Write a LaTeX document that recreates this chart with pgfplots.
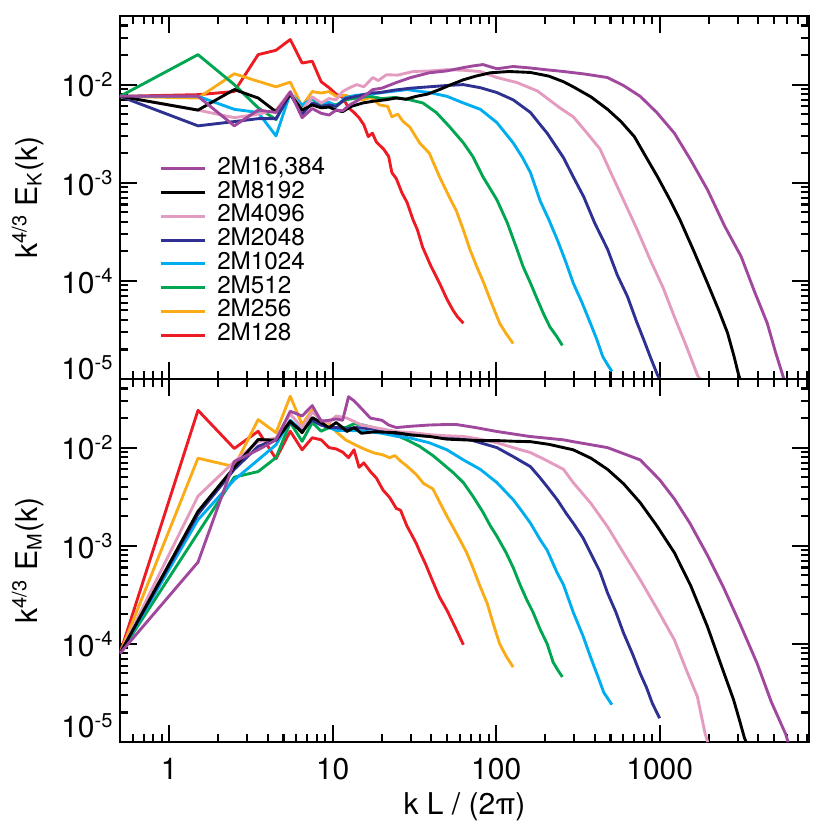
\documentclass[border=0pt]{standalone}
\usepackage{fontspec}
\setmainfont{TeX Gyre Heros}
\usepackage{pgfplots}
\pgfplotsset{compat=1.18}

\definecolor{cPur}{RGB}{160,72,158}
\definecolor{cPnk}{RGB}{228,155,192}
\definecolor{cNav}{RGB}{46,49,146}
\definecolor{cCyn}{RGB}{0,174,239}
\definecolor{cGrn}{RGB}{0,166,81}
\definecolor{cOrg}{RGB}{250,172,24}
\definecolor{cRed}{RGB}{237,28,36}

\pgfplotsset{
  every axis/.append style={
    scale only axis,
    width=275.6pt, height=145.2pt,
    xmin=0.5, xmax=8192, ymin=1e-5, ymax=0.05,
    axis line style={line width=0.95pt},
    tick align=inside, xtick pos=both, ytick pos=both,
    xticklabel pos=lower, yticklabel pos=left,
    major tick length=6.8pt, minor tick length=3.2pt,
    every tick/.style={black, line width=0.85pt},
    xtick={1,10,100,1000},
    minor xtick={0.6,0.7,0.8,0.9,2,3,4,5,6,7,8,9,20,30,40,50,60,70,80,90,
      200,300,400,500,600,700,800,900,2000,3000,4000,5000,6000,7000,8000},
    ytick={1e-4,1e-3,1e-2},
    yticklabels={10\textsuperscript{-4},10\textsuperscript{-3},10\textsuperscript{-2}},
    minor ytick={2e-5,3e-5,4e-5,5e-5,6e-5,7e-5,8e-5,9e-5,2e-4,3e-4,4e-4,5e-4,6e-4,7e-4,8e-4,9e-4,
      2e-3,3e-3,4e-3,5e-3,6e-3,7e-3,8e-3,9e-3,2e-2,3e-2,4e-2},
    extra y ticks={1e-5},
    extra y tick labels={10\textsuperscript{-5}},
    tick label style={font=\fontsize{12}{14}\selectfont},
    yticklabel style={xshift=1pt},
    label style={font=\fontsize{12}{14}\selectfont},
    ylabel style={at={(axis description cs:-0.134,0.5)}, anchor=center},
  },
  every axis plot/.append style={line width=1.15pt, line join=round},
}

\begin{document}
\begin{tikzpicture}
\useasboundingbox (-48pt,-180.4pt) rectangle (284pt,151.6pt);

% kinetic energy spectra
\begin{loglogaxis}[at={(0pt,0pt)},
    xticklabels={},
    extra y tick style={yticklabel style={yshift=4.5pt}},
    ylabel={k\textsuperscript{4/3} E\textsubscript{K}(k)},
    legend style={draw=none, fill=none, at={(0.045,0.627)}, anchor=north west,
      font=\fontsize{9.7}{10}\selectfont, row sep=0pt,
      nodes={inner sep=0pt, text height=7pt, text depth=2.5pt},
      /tikz/every odd column/.append style={column sep=4.5pt}},
    legend cell align=left, legend reversed,
    legend image code/.code={\draw[line width=1.2pt] (0pt,0pt) -- (17.6pt,0pt);},
]
\addplot[cRed] coordinates {(0.5,7.6e-3) (1.5,7.9e-3) (2.5,8.5e-3) (3.5,2.02e-2) (4.5,2.24e-2) (5.5,2.88e-2) (6.5,1.66e-2) (7.5,1.73e-2) (8.5,1.07e-2) (9.5,9.3e-3) (10.5,8.0e-3) (11.5,7.4e-3) (12.5,5.8e-3) (13.5,5.2e-3) (14.5,4.6e-3) (15.5,3.9e-3) (16.5,2.95e-3) (17.5,3.2e-3) (18.5,2.6e-3) (20.5,2.2e-3) (22,1.85e-3) (23,1.27e-3) (24.5,1.1e-3) (26.5,7.9e-4) (28.5,6.3e-4) (31,4.2e-4) (33,3.3e-4) (35.5,2.2e-4) (40,1.4e-4) (45,9.5e-5) (50,6.5e-5) (54.5,5.0e-5) (58,4.3e-5) (63,3.7e-5)};
\addlegendentry{2M128}
\addplot[cOrg] coordinates {(0.5,7.6e-3) (1.5,7.3e-3) (2.5,1.29e-2) (3.5,1.08e-2) (4.5,9.5e-3) (5.5,1.06e-2) (6.5,6.0e-3) (7.5,8.5e-3) (8.5,8.2e-3) (9.5,8.5e-3) (10.5,7.6e-3) (12,7.8e-3) (13.5,7.2e-3) (15.3,7.0e-3) (17,7.4e-3) (19.4,6.2e-3) (21.7,6.0e-3) (23,4.7e-3) (25,5.0e-3) (27,4.2e-3) (29.6,3.7e-3) (34,2.55e-3) (39,2.0e-3) (45,1.15e-3) (52,7.0e-4) (57,5.2e-4) (63,3.3e-4) (69,2.1e-4) (76,1.4e-4) (84,9.5e-5) (92,6.4e-5) (105,3.7e-5) (115,2.9e-5) (127,2.3e-5)};
\addlegendentry{2M256}
\addplot[cGrn] coordinates {(0.5,7.6e-3) (1.5,2.02e-2) (2.5,1.0e-2) (3.5,5.8e-3) (4.5,4.4e-3) (5.5,8.2e-3) (6.5,6.0e-3) (7.5,7.2e-3) (8.5,6.0e-3) (9.5,6.5e-3) (10.5,6.2e-3) (12,7.0e-3) (14,7.3e-3) (17,7.6e-3) (20,7.2e-3) (24,7.4e-3) (29.6,7.0e-3) (35.6,6.5e-3) (43,5.2e-3) (52,3.7e-3) (63,2.55e-3) (72,1.85e-3) (83,1.15e-3) (101,6.7e-4) (117,3.9e-4) (134,2.1e-4) (146,1.4e-4) (162,9.5e-5) (179,6.4e-5) (195,4.6e-5) (213,3.4e-5) (235,2.7e-5) (254,2.2e-5)};
\addlegendentry{2M512}
\addplot[cCyn] coordinates {(0.5,7.6e-3) (1.5,7.6e-3) (2.5,5.6e-3) (3.5,5.2e-3) (4.5,3.0e-3) (5.5,8.2e-3) (6.5,6.2e-3) (7.5,7.2e-3) (8.5,6.5e-3) (9.5,6.6e-3) (10.5,6.0e-3) (12,7.4e-3) (14,7.8e-3) (17,8.0e-3) (20,8.3e-3) (24,8.6e-3) (28.5,8.9e-3) (33,8.6e-3) (39,8.3e-3) (50,7.6e-3) (63,6.5e-3) (80,5.6e-3) (101,4.1e-3) (127,2.55e-3) (145,1.8e-3) (162,1.27e-3) (186,6.5e-4) (210,4.2e-4) (237,2.6e-4) (265,1.6e-4) (296,9.5e-5) (335,6.0e-5) (377,3.7e-5) (410,2.6e-5) (448,1.7e-5) (480,1.4e-5) (510,1.2e-5)};
\addlegendentry{2M1024}
\addplot[cNav] coordinates {(0.5,7.6e-3) (1.5,3.8e-3) (2.5,4.2e-3) (3.5,4.5e-3) (4.5,4.5e-3) (5.5,8.0e-3) (6.5,5.0e-3) (7.5,6.5e-3) (8.5,6.0e-3) (9.5,6.2e-3) (10.5,6.0e-3) (12,7.2e-3) (14,7.6e-3) (17,8.2e-3) (19.4,8.3e-3) (24,8.8e-3) (30,9.2e-3) (39,9.5e-3) (50,9.8e-3) (63,1.0e-2) (80,9.3e-3) (101,8.3e-3) (127,7.0e-3) (162,5.2e-3) (186,3.9e-3) (205,3.2e-3) (258,1.8e-3) (300,1.1e-3) (343,7.2e-4) (400,3.9e-4) (480,2.1e-4) (550,1.15e-4) (636,6.9e-5) (720,3.9e-5) (800,2.5e-5) (880,1.65e-5) (970,1.1e-5) (1000,1.0e-5)};
\addlegendentry{2M2048}
\addplot[cPnk] coordinates {(0.5,7.6e-3) (1.5,5.5e-3) (2.5,4.6e-3) (3.5,5.0e-3) (4.5,5.5e-3) (5.5,8.5e-3) (6.5,5.5e-3) (7.5,7.5e-3) (8.5,6.5e-3) (9.5,7.2e-3) (10.5,7.0e-3) (11.5,8.5e-3) (12.7,9.3e-3) (14,1.0e-2) (15.5,9.5e-3) (17.6,1.18e-2) (19,1.1e-2) (21.3,1.26e-2) (25,1.25e-2) (31,1.36e-2) (40,1.38e-2) (50,1.42e-2) (63,1.4e-2) (80,1.36e-2) (101,1.18e-2) (134,1.05e-2) (179,8.6e-3) (245,5.8e-3) (296,4.7e-3) (360,3.2e-3) (432,2.2e-3) (510,1.2e-3) (600,6.7e-4) (730,3.3e-4) (875,1.64e-4) (1050,8.5e-5) (1230,4.3e-5) (1450,2.2e-5) (1700,1.1e-5) (1760,1.0e-5)};
\addlegendentry{2M4096}
\addplot[black] coordinates {(0.5,7.6e-3) (1.5,5.5e-3) (2.5,8.9e-3) (3.5,7.3e-3) (4.5,5.3e-3) (5.5,8.0e-3) (6.5,5.5e-3) (7.5,6.2e-3) (8.5,5.8e-3) (9.5,5.9e-3) (10.5,5.5e-3) (11.5,5.3e-3) (13,6.0e-3) (15.3,6.5e-3) (18,6.8e-3) (21,7.0e-3) (24.5,7.3e-3) (28,7.1e-3) (32.5,7.6e-3) (38,8.0e-3) (45,8.9e-3) (53,1.0e-2) (63,1.12e-2) (75,1.22e-2) (92,1.32e-2) (120,1.36e-2) (162,1.33e-2) (210,1.22e-2) (258,1.07e-2) (296,9.5e-3) (380,7.5e-3) (480,5.6e-3) (580,4.2e-3) (700,2.95e-3) (830,1.8e-3) (970,1.15e-3) (1150,6.8e-4) (1330,4.2e-4) (1620,2.0e-4) (1960,9.5e-5) (2300,5.0e-5) (2600,2.95e-5) (2850,1.7e-5) (3040,1.1e-5) (3100,1.0e-5)};
\addlegendentry{2M8192}
\addplot[cPur] coordinates {(0.5,7.6e-3) (1.5,7.6e-3) (2.5,3.8e-3) (3.5,5.5e-3) (4.5,5.2e-3) (5.5,8.4e-3) (6.5,4.6e-3) (7.5,5.7e-3) (8.5,5.1e-3) (9.5,4.9e-3) (10.5,5.5e-3) (11.5,5.4e-3) (12.7,6.2e-3) (14,6.8e-3) (15.5,7.6e-3) (17.6,8.9e-3) (20,9.2e-3) (24.5,1.05e-2) (30,1.18e-2) (39,1.32e-2) (50,1.38e-2) (63,1.49e-2) (72,1.55e-2) (83,1.6e-2) (92,1.52e-2) (101,1.45e-2) (127,1.53e-2) (160,1.48e-2) (200,1.42e-2) (258,1.36e-2) (350,1.28e-2) (480,1.18e-2) (600,9.8e-3) (760,7.6e-3) (960,5.2e-3) (1230,3.2e-3) (1550,1.7e-3) (1960,8.5e-4) (2500,3.6e-4) (3150,1.77e-4) (3800,7.8e-5) (4550,3.7e-5) (5100,1.9e-5) (5650,1.1e-5) (5750,1.0e-5)};
\addlegendentry{2M16,384}
\end{loglogaxis}

% magnetic energy spectra
\begin{loglogaxis}[at={(0pt,-145.2pt)},
    xticklabels={1,10,100,1000},
    xticklabel style={yshift=-3pt},
    extra y tick style={yticklabel style={yshift=6.5pt}},
    xlabel={k L / (2π)},
    xlabel style={at={(axis description cs:0.5,-0.179)}, anchor=center},
    ylabel={k\textsuperscript{4/3} E\textsubscript{M}(k)},
]
\addplot[cRed] coordinates {(0.5,8e-5) (1.5,2.4e-2) (2.5,9.8e-3) (3.5,1.47e-2) (4.5,7.7e-3) (5.5,1.47e-2) (6.5,9.5e-3) (7.5,1.26e-2) (8.5,1.2e-2) (9.5,1.0e-2) (10.5,9.7e-3) (11.5,9.0e-3) (12.5,7.9e-3) (13.5,9.5e-3) (14.5,6.3e-3) (15.5,7.0e-3) (17,5.7e-3) (18.5,4.9e-3) (20.3,3.7e-3) (22.3,3.1e-3) (24.5,2.4e-3) (26,2.3e-3) (28.4,1.6e-3) (30,1.35e-3) (32.5,1.05e-3) (34,8.8e-4) (37,6.5e-4) (41,4.3e-4) (45,3.0e-4) (50,2.2e-4) (57,1.4e-4) (63,9.8e-5)};
\addplot[cOrg] coordinates {(0.5,8e-5) (1.5,7.8e-3) (2.5,6.4e-3) (3.5,1.93e-2) (4.5,1.42e-2) (5.5,3.34e-2) (6.5,1.72e-2) (7.5,2.44e-2) (8.5,1.9e-2) (9.5,1.78e-2) (10.5,1.45e-2) (12,1.2e-2) (14,1.05e-2) (16,9.5e-3) (18,8.8e-3) (20,8.5e-3) (22.3,7.9e-3) (24,8.3e-3) (26,7.3e-3) (28.4,6.5e-3) (32.5,5.3e-3) (36,4.3e-3) (41,3.8e-3) (45,2.8e-3) (50,2.0e-3) (55,1.5e-3) (60,1.15e-3) (66,8.5e-4) (72,6.0e-4) (80,3.8e-4) (88,2.6e-4) (96,1.6e-4) (105,1.0e-4) (115,7.5e-5) (127,5.8e-5)};
\addplot[cGrn] coordinates {(0.5,8e-5) (1.5,1.35e-3) (2.5,5.0e-3) (3.5,5.7e-3) (4.5,7.9e-3) (5.5,1.8e-2) (6.5,1.16e-2) (7.5,1.8e-2) (8.5,1.47e-2) (9.5,1.6e-2) (10.5,1.6e-2) (12,1.6e-2) (13.5,1.75e-2) (15.3,1.7e-2) (19,1.55e-2) (22,1.4e-2) (25.7,1.29e-2) (28.4,1.2e-2) (34,1.03e-2) (41,8.3e-3) (45,7.3e-3) (55,5.5e-3) (63,4.4e-3) (72,3.2e-3) (83,2.2e-3) (92,1.6e-3) (101,1.25e-3) (115,8.5e-4) (127,6.0e-4) (140,4.0e-4) (154,2.8e-4) (168,2.1e-4) (186,1.4e-4) (205,1.0e-4) (223,6.5e-5) (240,5.3e-5) (254,4.6e-5)};
\addplot[cCyn] coordinates {(0.5,8e-5) (1.5,1.84e-3) (2.5,4.7e-3) (3.5,7.5e-3) (4.5,1.07e-2) (5.5,1.9e-2) (6.5,1.5e-2) (7.5,1.9e-2) (8.5,1.7e-2) (9.5,1.6e-2) (10.5,1.5e-2) (12,1.5e-2) (15,1.48e-2) (20,1.4e-2) (25,1.3e-2) (30,1.25e-2) (39,1.12e-2) (50,9.5e-3) (63,7.5e-3) (80,6.0e-3) (101,4.4e-3) (127,2.95e-3) (145,2.2e-3) (162,1.7e-3) (186,1.15e-3) (205,9.0e-4) (236,5.3e-4) (258,4.0e-4) (296,2.1e-4) (340,1.2e-4) (377,7.4e-5) (420,4.6e-5) (455,3.2e-5) (510,2.4e-5)};
\addplot[cNav] coordinates {(0.5,8e-5) (1.5,2.1e-3) (2.5,6.0e-3) (3.5,1.03e-2) (4.5,1.2e-2) (5.5,1.8e-2) (6.5,1.5e-2) (7.5,1.9e-2) (8.5,1.7e-2) (9.5,1.6e-2) (10.5,1.6e-2) (12,1.55e-2) (14,1.6e-2) (17.6,1.55e-2) (24,1.4e-2) (30,1.35e-2) (39,1.3e-2) (50,1.28e-2) (63,1.26e-2) (80,1.12e-2) (101,1.0e-2) (127,8.1e-3) (162,6.4e-3) (186,4.9e-3) (205,4.0e-3) (236,2.95e-3) (270,2.1e-3) (296,1.7e-3) (340,1.2e-3) (377,8.5e-4) (430,5.5e-4) (480,3.3e-4) (540,2.1e-4) (600,1.3e-4) (680,8.0e-5) (760,5.0e-5) (830,3.6e-5) (900,2.5e-5) (960,2.0e-5) (1000,1.75e-5)};
\addplot[cPnk] coordinates {(0.5,8e-5) (1.5,3.2e-3) (2.5,7.2e-3) (3.5,1.15e-2) (4.5,1.25e-2) (5.5,2.2e-2) (6.5,1.6e-2) (7.5,2.3e-2) (8.5,1.9e-2) (9.5,1.8e-2) (10.5,2.1e-2) (12.2,2.0e-2) (15,1.7e-2) (20,1.55e-2) (25,1.45e-2) (31,1.42e-2) (40,1.35e-2) (50,1.32e-2) (63,1.3e-2) (80,1.22e-2) (101,1.12e-2) (127,1.0e-2) (162,8.9e-3) (200,7.5e-3) (258,6.0e-3) (296,4.4e-3) (380,2.7e-3) (480,1.56e-3) (600,8.5e-4) (760,4.5e-4) (960,2.3e-4) (1230,1.1e-4) (1450,5.5e-5) (1700,2.9e-5) (1900,1.2e-5) (1970,1.0e-5)};
\addplot[black] coordinates {(0.5,8e-5) (1.5,2.24e-3) (2.5,6.3e-3) (3.5,1.21e-2) (4.5,1.19e-2) (5.5,1.86e-2) (6.5,1.42e-2) (7.5,2.02e-2) (8.5,1.8e-2) (9.5,1.6e-2) (10.5,1.8e-2) (11.5,1.6e-2) (12.2,1.46e-2) (13.5,1.6e-2) (15,1.4e-2) (18,1.45e-2) (24.5,1.42e-2) (30,1.35e-2) (39,1.3e-2) (50,1.22e-2) (63,1.2e-2) (80,1.18e-2) (101,1.18e-2) (130,1.16e-2) (162,1.15e-2) (210,1.08e-2) (258,1.0e-2) (296,9.5e-3) (380,7.8e-3) (480,6.0e-3) (600,4.3e-3) (760,2.75e-3) (960,1.6e-3) (1230,8.5e-4) (1550,3.9e-4) (1960,1.5e-4) (2400,5.8e-5) (2830,2.7e-5) (3100,1.6e-5) (3300,1.1e-5) (3380,1.0e-5)};
\addplot[cPur] coordinates {(0.5,8e-5) (1.5,6.8e-4) (2.5,7.2e-3) (3.5,9.5e-3) (4.5,1.2e-2) (5.5,2.35e-2) (6.5,2.1e-2) (7.5,2.68e-2) (8.5,1.86e-2) (9.5,1.9e-2) (10.5,1.96e-2) (11.5,1.9e-2) (12.5,3.3e-2) (13.5,3.0e-2) (15,2.5e-2) (17,2.0e-2) (20,1.9e-2) (22,1.7e-2) (24.5,1.6e-2) (30,1.65e-2) (39,1.7e-2) (50,1.72e-2) (57,1.72e-2) (75,1.6e-2) (101,1.46e-2) (160,1.3e-2) (258,1.2e-2) (296,1.15e-2) (480,1.0e-2) (760,7.5e-3) (1000,4.7e-3) (1230,3.0e-3) (1530,1.7e-3) (1960,8.0e-4) (2450,3.8e-4) (3100,1.6e-4) (3950,6.3e-5) (4800,2.6e-5) (5900,1.2e-5) (6100,1.0e-5)};
\end{loglogaxis}
\end{tikzpicture}
\end{document}
